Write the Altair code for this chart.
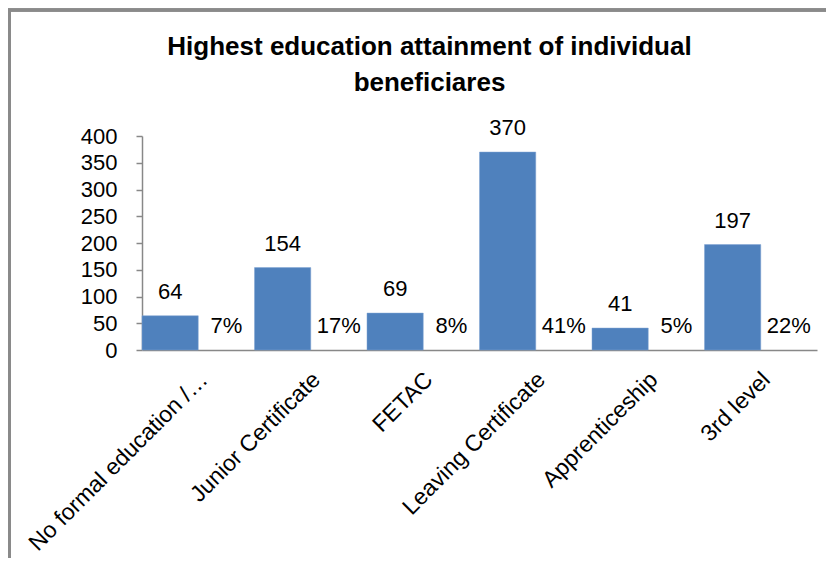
import altair as alt
import pandas as pd

categories = ["No formal education /…", "Junior Certificate", "FETAC",
              "Leaving Certificate", "Apprenticeship", "3rd level"]
counts = [64, 154, 69, 370, 41, 197]
percents = [7, 17, 8, 41, 5, 22]
y_ticks = [0, 50, 100, 150, 200, 250, 300, 350, 400]

rows = []
for c, n, p in zip(categories, counts, percents):
    rows.append({"category": c, "series": "count", "value": n, "label": str(n)})
    rows.append({"category": c, "series": "pct", "value": p / 100.0, "label": f"{p}%"})
df = pd.DataFrame(rows)

FONT = "Liberation Sans"
GRAY = "#888888"

x_axis = alt.Axis(labelAngle=-45, labelFontSize=23, labelFont=FONT,
                  labelColor="black", labelLimit=400, labelPadding=18,
                  labelOffset=-2, ticks=False, domainColor=GRAY, domainWidth=1.5)
y_axis = alt.Axis(values=y_ticks, tickCount=20, labelFontSize=22, labelFont=FONT,
                  labelColor="black", grid=False, tickSize=6,
                  labelOverlap=False,
                  tickColor=GRAY, domainColor=GRAY, domainWidth=1.5,
                  tickWidth=1.5, labelPadding=19)

x_enc = alt.X("category:N", sort=categories, title=None,
              scale=alt.Scale(paddingInner=0, paddingOuter=0), axis=x_axis)
xoff = alt.XOffset("series:N", scale=alt.Scale(domain=["count", "pct"], paddingInner=0, paddingOuter=0))
y_enc = alt.Y("value:Q", title=None,
              scale=alt.Scale(domain=[0, 400], nice=False), axis=y_axis)

base = alt.Chart(df)

bars = base.transform_filter(alt.datum.series == "count").mark_bar(
    color="#4F81BD", stroke="#7FA3D3", strokeWidth=0.5
).encode(x=x_enc, xOffset=xoff, y=y_enc)

labels = base.mark_text(baseline="alphabetic", dy=-17, fontSize=22, font=FONT,
                        color="black").encode(
    x=x_enc, xOffset=xoff, y=y_enc, text="label:N")

frame_left = base.mark_rule(color="#8a8a8a", strokeWidth=3).encode(
    x=alt.value(-132.5), y=alt.value(-127), y2=alt.value(430))
frame_top = base.mark_rule(color="#8a8a8a", strokeWidth=2.5).encode(
    x=alt.value(-134), x2=alt.value(700), y=alt.value(-126))

chart = alt.layer(bars, labels, frame_left, frame_top).properties(
    width=675, height=214,
    autosize="none",
    padding={"left": 134, "top": 128, "right": 9, "bottom": 208},
    title=alt.TitleParams(
        text=["Highest education attainment of individual", "beneficiares"],
        font=FONT, fontSize=26, fontWeight="bold", color="black",
        anchor="middle", dx=-50, offset=-88, baseline="top",
        lineHeight=36, frame="group"),
).configure_view(stroke=None)

chart.save("out.html", embed_options={"renderer": "svg", "actions": False})
